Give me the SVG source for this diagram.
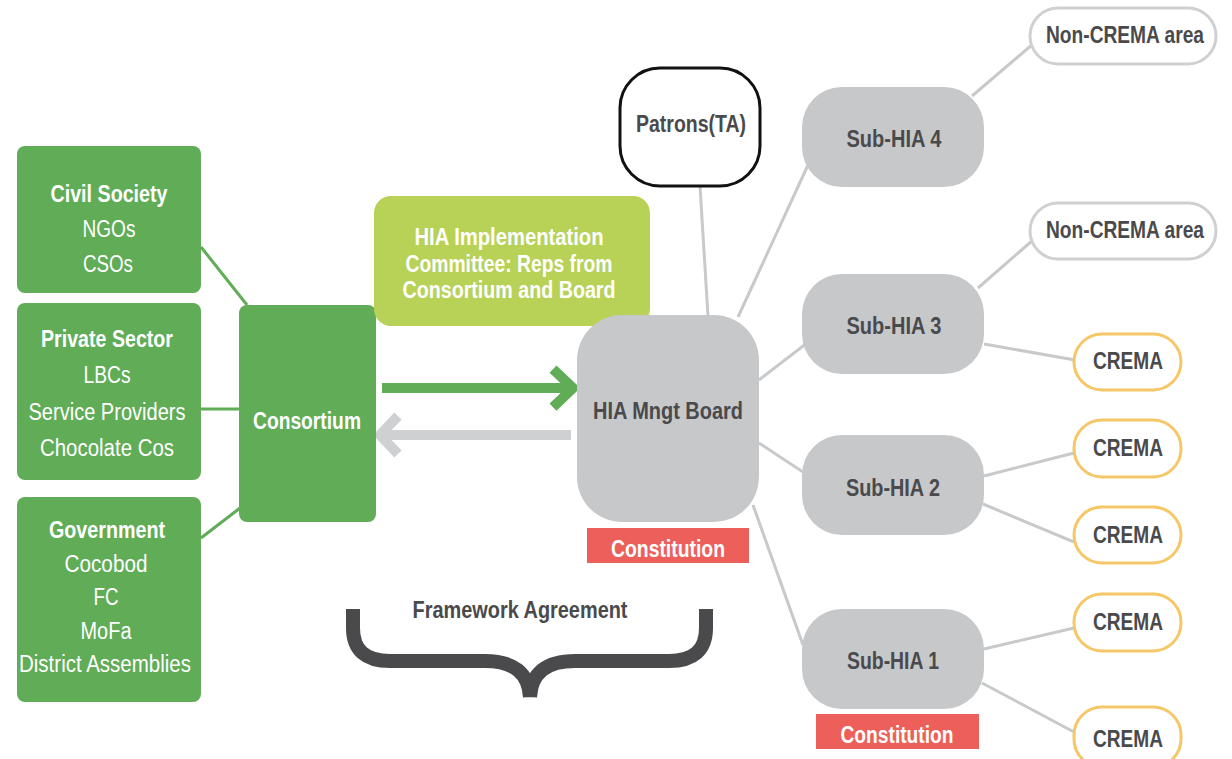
<svg xmlns="http://www.w3.org/2000/svg" width="1232" height="759" viewBox="0 0 1232 759">
<style>
text{font-family:"Liberation Sans",Arial,sans-serif;font-size:23px;text-anchor:middle}
.b{font-weight:bold}
.w{fill:#ffffff}
.d{fill:#4a4a4d}
.green{fill:#60ac57}
.lime{fill:#b8d157}
.grey{fill:#c7c8ca}
.red{fill:#ec5f5a}
.gl{stroke:#60ac57;stroke-width:3;fill:none}
.cl{stroke:#c8c9cb;stroke-width:3;fill:none}
.nc{fill:#ffffff;stroke:#cfd0d2;stroke-width:3}
.cr{fill:#ffffff;stroke:#f5c766;stroke-width:3}
</style>
<g id="connectors">
<line class="gl" x1="201" y1="247" x2="247" y2="305"/>
<line class="gl" x1="201" y1="409" x2="240" y2="409"/>
<line class="gl" x1="201" y1="538" x2="240" y2="508"/>
<line class="cl" x1="700" y1="186" x2="708" y2="316"/>
<line class="cl" x1="738" y1="317" x2="808" y2="165"/>
<line class="cl" x1="759" y1="380" x2="807" y2="343"/>
<line class="cl" x1="759" y1="443" x2="803" y2="472"/>
<line class="cl" x1="753" y1="505" x2="803" y2="645"/>
<line class="cl" x1="972" y1="96" x2="1033" y2="44"/>
<line class="cl" x1="978" y1="288" x2="1033" y2="240"/>
<line class="cl" x1="984" y1="344" x2="1075" y2="360"/>
<line class="cl" x1="984" y1="476" x2="1074" y2="453"/>
<line class="cl" x1="983" y1="504" x2="1074" y2="542"/>
<line class="cl" x1="984" y1="649" x2="1074" y2="628"/>
<line class="cl" x1="982" y1="683" x2="1074" y2="732"/>
<g id="arrow-to-board">
<line x1="382" y1="388" x2="570" y2="388" stroke="#60ac57" stroke-width="10"/>
<polyline points="553,369 573,388 553,407" fill="none" stroke="#60ac57" stroke-width="10"/>
</g>
<g id="arrow-to-consortium">
<line x1="571" y1="435" x2="384" y2="435" stroke="#cfd0d2" stroke-width="10"/>
<polyline points="398,416 380,435 398,454" fill="none" stroke="#cfd0d2" stroke-width="10"/>
</g>
</g>
<g id="civil-society">
<rect class="green" x="17" y="146" width="184" height="147" rx="8"/>
<text class="b w" x="109" y="202" textLength="117" lengthAdjust="spacingAndGlyphs">Civil Society</text>
<text class="w" x="109" y="237" textLength="53" lengthAdjust="spacingAndGlyphs">NGOs</text>
<text class="w" x="108" y="272" textLength="50" lengthAdjust="spacingAndGlyphs">CSOs</text>
</g>
<g id="private-sector">
<rect class="green" x="17" y="303" width="184" height="177" rx="8"/>
<text class="b w" x="107" y="347" textLength="132" lengthAdjust="spacingAndGlyphs">Private Sector</text>
<text class="w" x="107" y="383" textLength="47" lengthAdjust="spacingAndGlyphs">LBCs</text>
<text class="w" x="107" y="420" textLength="157" lengthAdjust="spacingAndGlyphs">Service Providers</text>
<text class="w" x="107" y="456" textLength="134" lengthAdjust="spacingAndGlyphs">Chocolate Cos</text>
</g>
<g id="government">
<rect class="green" x="17" y="497" width="184" height="205" rx="8"/>
<text class="b w" x="107" y="538" textLength="116" lengthAdjust="spacingAndGlyphs">Government</text>
<text class="w" x="106" y="572" textLength="83" lengthAdjust="spacingAndGlyphs">Cocobod</text>
<text class="w" x="106" y="605" textLength="25" lengthAdjust="spacingAndGlyphs">FC</text>
<text class="w" x="106" y="639" textLength="51" lengthAdjust="spacingAndGlyphs">MoFa</text>
<text class="w" x="105" y="672" textLength="172" lengthAdjust="spacingAndGlyphs">District Assemblies</text>
</g>
<g id="consortium">
<rect class="green" x="239" y="305" width="137" height="217" rx="8"/>
<text class="b w" x="307" y="429" textLength="108" lengthAdjust="spacingAndGlyphs">Consortium</text>
</g>
<g id="implementation-committee">
<rect class="lime" x="374" y="196" width="276" height="130" rx="17"/>
<text class="b w" x="509" y="245" font-size="22" textLength="189" lengthAdjust="spacingAndGlyphs">HIA Implementation</text>
<text class="b w" x="509" y="272" font-size="22" textLength="207" lengthAdjust="spacingAndGlyphs">Committee: Reps from</text>
<text class="b w" x="509" y="298" font-size="22" textLength="213" lengthAdjust="spacingAndGlyphs">Consortium and Board</text>
</g>
<g id="patrons">
<rect x="620" y="68" width="140" height="118" rx="40" fill="#ffffff" stroke="#111111" stroke-width="3"/>
<text class="b d" x="691" y="132" textLength="110" lengthAdjust="spacingAndGlyphs">Patrons(TA)</text>
</g>
<g id="hia-board">
<rect class="grey" x="577" y="315" width="182" height="207" rx="45"/>
<text class="b d" x="668" y="419" textLength="150" lengthAdjust="spacingAndGlyphs">HIA Mngt Board</text>
</g>
<g id="constitution-board">
<rect class="red" x="587" y="528" width="162" height="35"/>
<text class="b w" x="668" y="557" textLength="114" lengthAdjust="spacingAndGlyphs">Constitution</text>
</g>
<g id="sub-hia-4">
<rect class="grey" x="802" y="87" width="182" height="100" rx="40"/>
<text class="b d" x="894" y="147" textLength="95" lengthAdjust="spacingAndGlyphs">Sub-HIA 4</text>
</g>
<g id="sub-hia-3">
<rect class="grey" x="802" y="274" width="182" height="100" rx="40"/>
<text class="b d" x="894" y="334" textLength="95" lengthAdjust="spacingAndGlyphs">Sub-HIA 3</text>
</g>
<g id="sub-hia-2">
<rect class="grey" x="802" y="435" width="182" height="100" rx="40"/>
<text class="b d" x="893" y="496" textLength="94" lengthAdjust="spacingAndGlyphs">Sub-HIA 2</text>
</g>
<g id="sub-hia-1">
<rect class="grey" x="802" y="609" width="182" height="100" rx="40"/>
<text class="b d" x="893" y="669" textLength="92" lengthAdjust="spacingAndGlyphs">Sub-HIA 1</text>
</g>
<g id="constitution-sub1">
<rect class="red" x="816" y="714" width="163" height="35"/>
<text class="b w" x="897" y="743" textLength="113" lengthAdjust="spacingAndGlyphs">Constitution</text>
</g>
<g id="non-crema-1">
<rect class="nc" x="1030" y="8" width="186" height="56" rx="28"/>
<text class="b d" x="1125" y="43" font-size="21" textLength="158" lengthAdjust="spacingAndGlyphs">Non-CREMA area</text>
</g>
<g id="non-crema-2">
<rect class="nc" x="1030" y="203" width="186" height="56" rx="28"/>
<text class="b d" x="1125" y="238" font-size="21" textLength="158" lengthAdjust="spacingAndGlyphs">Non-CREMA area</text>
</g>
<g id="crema-3">
<rect class="cr" x="1074" y="334" width="107" height="56" rx="28"/>
<text class="b d" x="1128" y="369" textLength="70" lengthAdjust="spacingAndGlyphs">CREMA</text>
</g>
<g id="crema-2a">
<rect class="cr" x="1074" y="420" width="107" height="57" rx="28"/>
<text class="b d" x="1128" y="456" textLength="70" lengthAdjust="spacingAndGlyphs">CREMA</text>
</g>
<g id="crema-2b">
<rect class="cr" x="1074" y="507" width="107" height="56" rx="28"/>
<text class="b d" x="1128" y="543" textLength="70" lengthAdjust="spacingAndGlyphs">CREMA</text>
</g>
<g id="crema-1a">
<rect class="cr" x="1074" y="594" width="107" height="57" rx="28"/>
<text class="b d" x="1128" y="630" textLength="70" lengthAdjust="spacingAndGlyphs">CREMA</text>
</g>
<g id="crema-1b">
<rect class="cr" x="1074" y="707" width="107" height="60" rx="28"/>
<text class="b d" x="1128" y="747" textLength="70" lengthAdjust="spacingAndGlyphs">CREMA</text>
</g>
<g id="framework-agreement">
<text class="b d" x="520" y="618" font-size="22" textLength="215" lengthAdjust="spacingAndGlyphs">Framework Agreement</text>
<path d="M353,609 V628 Q353,661 390,661 H485 Q528,661 530,697 M706,609 V628 Q706,661 669,661 H575 Q532,661 530,697" fill="none" stroke="#4a4a4d" stroke-width="14"/>
</g>
</svg>
